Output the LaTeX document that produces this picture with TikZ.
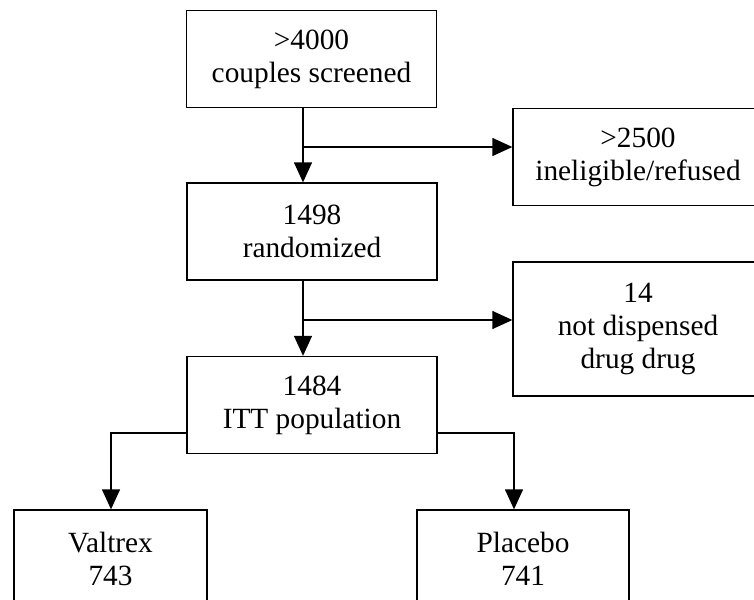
\documentclass[tikz,border=0pt]{standalone}
\usepackage{fontspec}
\setmainfont{Liberation Serif}
\usetikzlibrary{arrows.meta}

\begin{document}
\begin{tikzpicture}[x=0.75pt,y=-0.75pt,
    box/.style={draw,line width=1pt,inner sep=0pt,align=center,
      font=\fontsize{22}{24.75}\selectfont,minimum width=187.5pt,minimum height=72.75pt},
    flow/.style={line width=1pt,-{Triangle[length=15pt,width=13.5pt]}}]
  \useasboundingbox (0,0) rectangle (754,600);
  \clip (0,0) rectangle (754,600);
  % main column
  \node[box] (screen) at (311.5,59) {>4000\\couples screened};
  \node[box] (rand) at (312,231.5) {1498\\randomized};
  \node[box] (itt) at (312,405) {1484\\ITT population};
  % side boxes, cut at the right edge
  \node[box] (refused) at (638,157) {>2500\\ineligible/refused};
  \node[box,minimum height=100.5pt] (notdisp) at (638,329) {14\\not dispensed\\drug drug};
  % arms
  \node[box,minimum width=144.75pt] (valtrex) at (110.5,558.5) {Valtrex\\743};
  \node[box,minimum width=159pt] (placebo) at (523,558.5) {Placebo\\741};
  \coordinate (split1) at (303,147);
  \coordinate (split2) at (303,320);
  \coordinate (leftturn) at (111,433);
  \coordinate (rightturn) at (514,433);
  \draw[flow] (screen.south -| split1) -- (rand.north -| split1);
  \draw[flow] (split1) -- (split1 -| refused.west);
  \draw[flow] (rand.south -| split2) -- (itt.north -| split2);
  \draw[flow] (split2) -- (split2 -| notdisp.west);
  \draw[flow] (itt.west |- leftturn) -- (leftturn) -- (valtrex.north -| leftturn);
  \draw[flow] (itt.east |- rightturn) -- (rightturn) -- (placebo.north -| rightturn);
\end{tikzpicture}
\end{document}
